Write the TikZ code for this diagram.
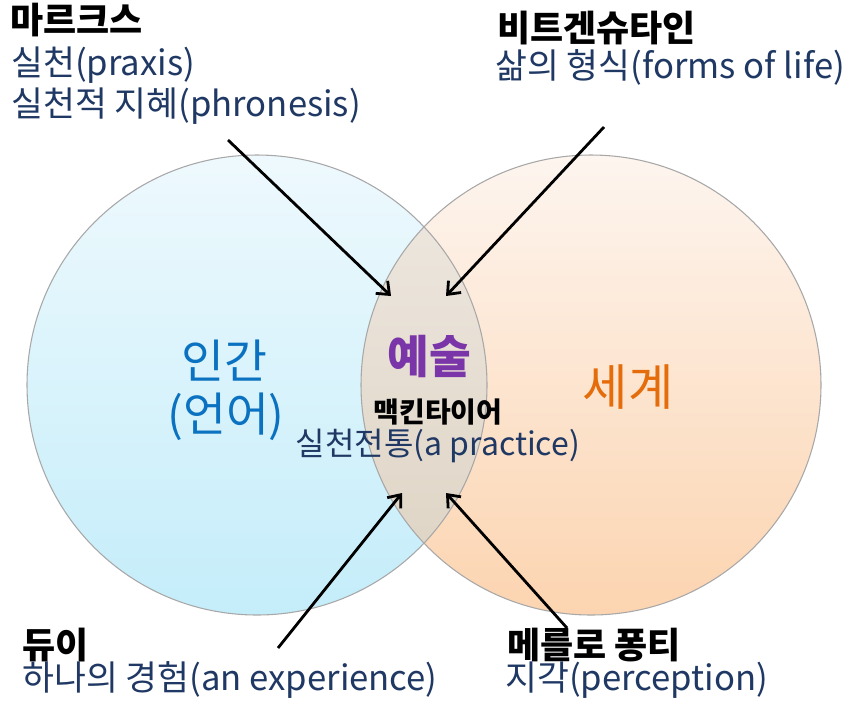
\documentclass[tikz,border=0pt]{standalone}
\usepackage{fontspec}
\setmainfont{Noto Sans CJK KR}
\usetikzlibrary{arrows.meta}

\definecolor{navy}{HTML}{1F3864}
\definecolor{humanblue}{HTML}{0A72C0}
\definecolor{artpurple}{HTML}{7A35A8}
\definecolor{worldorange}{HTML}{E46C0A}
\definecolor{rimgray}{HTML}{A8A8A8}
\definecolor{humantop}{HTML}{EEF9FD}
\definecolor{humanbot}{HTML}{C4EDFA}
\definecolor{worldtop}{HTML}{FDF5EF}
\definecolor{worldbot}{HTML}{FCD4B0}
\definecolor{arttop}{HTML}{EFE9E2}
\definecolor{artbot}{HTML}{DDD2C2}

\tikzset{
  thinker/.style={font=\fontsize{27pt}{31pt}\selectfont\bfseries, text=black, anchor=base west, inner sep=0pt},
  concept/.style={font=\fontsize{26pt}{30pt}\selectfont, text=navy, anchor=base west, inner sep=0pt},
  bigword/.style={font=\fontsize{35pt}{40pt}\selectfont, anchor=base, inner sep=0pt},
  rim/.style={draw=rimgray, line width=0.8pt},
  pointer/.style={draw=black, line width=2.1pt, -{Straight Barb[length=8pt,width=13pt,line width=2.1pt]}},
}

\begin{document}
\begin{tikzpicture}[x=0.75pt, y=-0.75pt]
  \fill[white] (0,0) rectangle (863,719);
  \useasboundingbox (0,0) rectangle (863,719);

  % the two domains
  \node[circle, minimum size=345pt, inner sep=0pt, top color=humantop, bottom color=humanbot] (human) at (257,385) {};
  \node[circle, minimum size=345pt, inner sep=0pt, top color=worldtop, bottom color=worldbot] (world) at (591,385) {};

  % their overlap
  \begin{scope}
    \clip (human.center) circle[radius=172.5pt];
    \shade[top color=arttop, bottom color=artbot] (world.center) circle[radius=172.5pt];
  \end{scope}

  \draw[rim] (human.center) circle[radius=172.5pt];
  \draw[rim] (world.center) circle[radius=172.5pt];

  % labels inside the circles
  \node[bigword, text=humanblue] (humanA) at (224,378) {인간};
  \node[bigword, text=humanblue] (humanB) at (226,431) {(언어)};
  \node[bigword, text=worldorange, font=\fontsize{37pt}{42pt}\selectfont] (worldA) at (628,405) {세계};
  \node[bigword, text=artpurple, font=\fontsize{34pt}{40pt}\selectfont\bfseries] (art) at (429,373) {예술};
  \node[font=\fontsize{21pt}{25pt}\selectfont\bfseries, anchor=base, inner sep=0pt] (macintyre) at (438,422) {맥킨타이어};
  \node[font=\fontsize{24pt}{28pt}\selectfont, text=navy, anchor=base, inner sep=0pt] (practice) at (438,455) {실천전통(a practice)};

  % thinkers and their notions
  \node[thinker] (marx) at (10,33) {마르크스};
  \node[concept] (marxA) at (11,75) {실천(praxis)};
  \node[concept] (marxB) at (11,116) {실천적 지혜(phronesis)};

  \node[thinker] (witt) at (497,41) {비트겐슈타인};
  \node[concept] (wittA) at (495,78) {삶의 형식(forms of life)};

  \node[thinker] (dewey) at (22,658) {듀이};
  \node[concept] (deweyA) at (22,690) {하나의 경험(an experience)};

  \node[thinker] (merleau) at (507,658) {메를로 퐁티};
  \node[concept] (merleauA) at (505,690) {지각(perception)};

  % arrow ends
  \coordinate (marxTail) at (228,140);
  \coordinate (marxTip) at (391,296);
  \coordinate (wittTail) at (604,127);
  \coordinate (wittTip) at (446,296);
  \coordinate (deweyTail) at (278,648);
  \coordinate (deweyTip) at (402,493);
  \coordinate (merleauTail) at (567,628);
  \coordinate (merleauTip) at (446,493);

  \draw[pointer] (marxTail) -- (marxTip);
  \draw[pointer] (wittTail) -- (wittTip);
  \draw[pointer] (deweyTail) -- (deweyTip);
  \draw[pointer] (merleauTail) -- (merleauTip);
\end{tikzpicture}
\end{document}
